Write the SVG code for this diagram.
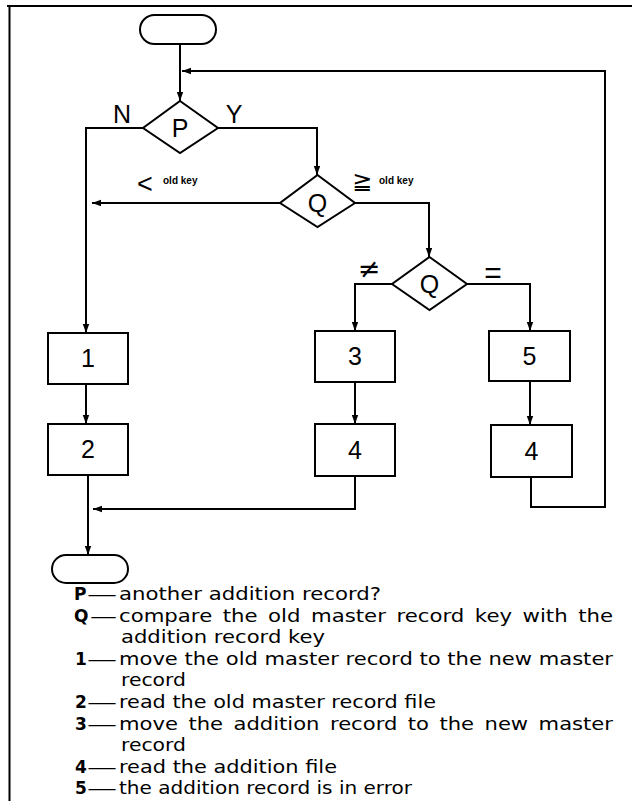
<svg xmlns="http://www.w3.org/2000/svg" width="632" height="801" viewBox="0 0 632 801">
<defs>
<marker id="ah" markerWidth="10" markerHeight="8" refX="9" refY="4" orient="auto" markerUnits="userSpaceOnUse">
<path d="M0,0.8 L9,4 L0,7.2 Z" fill="#000"/>
</marker>
<style>
.s{fill:#fff;stroke:#000;stroke-width:2}
.c{fill:none;stroke:#000;stroke-width:2;marker-end:url(#ah)}
.l{fill:none;stroke:#000;stroke-width:2}
.t{font-family:"Liberation Sans",Arial,sans-serif;font-size:25px;fill:#000;text-anchor:middle}
.k{font-family:"Liberation Sans",Arial,sans-serif;font-size:10px;font-weight:bold;fill:#000}
.g{font-family:"DejaVu Sans","Liberation Sans",sans-serif;font-size:18px;fill:#000}
.b{font-weight:bold;font-size:17px}
.j{word-spacing:3.2px}
</style>
</defs>
<rect width="632" height="801" fill="#fff"/>
<g id="frame">
<line x1="7" y1="6" x2="632" y2="6" class="l"/>
<line x1="9.5" y1="6" x2="9.5" y2="801" class="l"/>
</g>
<g id="connectors">
<path class="c" d="M180,44 V101"/>
<path class="c" d="M531,477 V507 H605 V71 H182"/>
<path class="c" d="M143,128 H86 V333"/>
<path class="c" d="M218,128 H317 V175"/>
<path class="c" d="M280,203 H92"/>
<path class="c" d="M355,203 H429 V257"/>
<path class="c" d="M392,284 H355 V331"/>
<path class="c" d="M467,284 H530 V331"/>
<path class="c" d="M86,384 V424"/>
<path class="c" d="M355,382 V424"/>
<path class="c" d="M530,381 V425"/>
<path class="c" d="M88,475 V555"/>
<path class="c" d="M355,476 V509 H93"/>
</g>
<g id="start"><rect class="s" x="140" y="15" width="76" height="29" rx="14.5"/></g>
<g id="end"><rect class="s" x="52" y="555" width="76" height="28" rx="14"/></g>
<g id="P">
<polygon class="s" points="180,101 218,128 180,153 143,128"/>
<text class="t" x="180" y="137">P</text>
</g>
<g id="Q1">
<polygon class="s" points="317.5,175 355,203 317.5,227 280,203"/>
<text class="t" x="317.5" y="212">Q</text>
</g>
<g id="Q2">
<polygon class="s" points="429.5,257 467,284 429.5,310 392,284"/>
<text class="t" x="429.5" y="293">Q</text>
</g>
<g id="box1"><rect class="s" x="48" y="333" width="80" height="51"/><text class="t" x="88" y="367">1</text></g>
<g id="box2"><rect class="s" x="48" y="424" width="80" height="51"/><text class="t" x="88" y="458">2</text></g>
<g id="box3"><rect class="s" x="315" y="331" width="80" height="51"/><text class="t" x="355" y="365">3</text></g>
<g id="box4a"><rect class="s" x="315" y="424" width="80" height="52"/><text class="t" x="355" y="459">4</text></g>
<g id="box5"><rect class="s" x="489" y="331" width="81" height="50"/><text class="t" x="529.5" y="365">5</text></g>
<g id="box4b"><rect class="s" x="491" y="425" width="81" height="52"/><text class="t" x="531.5" y="460">4</text></g>
<g id="labels">
<text class="t" x="122" y="123">N</text>
<text class="t" x="234" y="123">Y</text>
<text class="t" x="145" y="193" style="font-size:27px">&lt;</text>
<text class="k" x="163" y="184">old key</text>
<text class="t" x="362" y="189" style="font-family:'DejaVu Sans',sans-serif;font-size:24px">≧</text>
<text class="k" x="379" y="184">old key</text>
<text class="t" x="369" y="278" style="font-family:'DejaVu Sans',sans-serif;font-size:27px">≠</text>
<text class="t" x="493" y="283" style="font-size:30px">=</text>
</g>
<g id="legend" class="g">
<text x="74" y="600" class="b">P</text><text x="87" y="600" textLength="30" lengthAdjust="spacingAndGlyphs">—</text><text x="119" y="600" textLength="262" lengthAdjust="spacingAndGlyphs">another addition record?</text>
<text x="74" y="621.5" class="b">Q</text><text x="90" y="621.5" textLength="27" lengthAdjust="spacingAndGlyphs">—</text><text x="119" y="621.5" class="j" textLength="494" lengthAdjust="spacingAndGlyphs">compare the old master record key with the</text>
<text x="121" y="643" textLength="204" lengthAdjust="spacingAndGlyphs">addition record key</text>
<text x="75" y="665" class="b">1</text><text x="87" y="665" textLength="30" lengthAdjust="spacingAndGlyphs">—</text><text x="119" y="665" textLength="494" lengthAdjust="spacingAndGlyphs">move the old master record to the new master</text>
<text x="121" y="686" textLength="65" lengthAdjust="spacingAndGlyphs">record</text>
<text x="75" y="708" class="b">2</text><text x="87" y="708" textLength="30" lengthAdjust="spacingAndGlyphs">—</text><text x="119" y="708" textLength="317" lengthAdjust="spacingAndGlyphs">read the old master record file</text>
<text x="75" y="730" class="b">3</text><text x="87" y="730" textLength="30" lengthAdjust="spacingAndGlyphs">—</text><text x="119" y="730" class="j" textLength="494" lengthAdjust="spacingAndGlyphs">move the addition record to the new master</text>
<text x="121" y="751" textLength="65" lengthAdjust="spacingAndGlyphs">record</text>
<text x="75" y="773" class="b">4</text><text x="87" y="773" textLength="30" lengthAdjust="spacingAndGlyphs">—</text><text x="119" y="773" textLength="218" lengthAdjust="spacingAndGlyphs">read the addition file</text>
<text x="75" y="794" class="b">5</text><text x="87" y="794" textLength="30" lengthAdjust="spacingAndGlyphs">—</text><text x="119" y="794" textLength="293" lengthAdjust="spacingAndGlyphs">the addition record is in error</text>
</g>
</svg>
